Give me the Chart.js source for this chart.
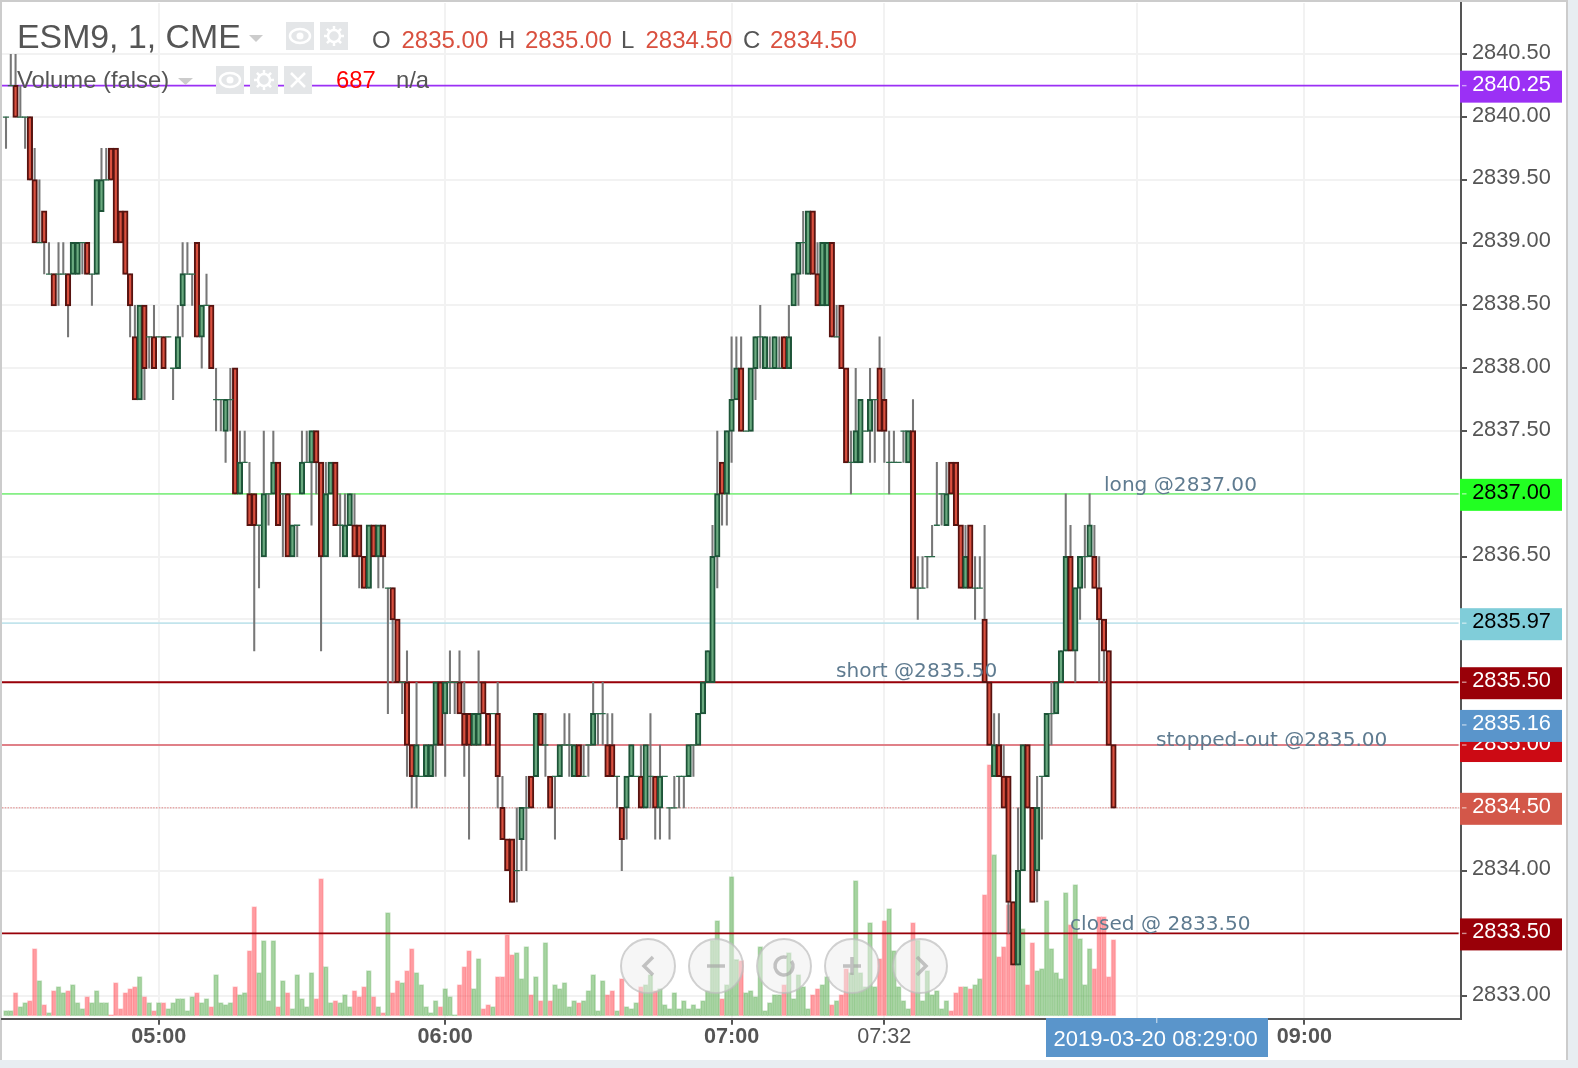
<!DOCTYPE html>
<html>
<head>
<meta charset="utf-8">
<title>ESM9, 1, CME</title>
<script src="https://cdn.jsdelivr.net/npm/chart.js@4/dist/chart.umd.min.js"></script>
<style>
  html, body { margin: 0; padding: 0; background: #e8edf1; }
  canvas { display: block; }
</style>
</head>
<body>
<canvas id="chart" width="1578" height="1068"></canvas>
<script>
// minutes since midnight of the first bar (04:28), one bar a minute
const firstMinute = 268;

const opens = [
  2840,2840.25,2840.25,2840,2840,2840,2839.5,2839,2839.25,2838.75,
  2838.75,2838.75,2838.75,2838.75,2838.75,2838.75,2839,2839,2838.75,2838.75,
  2839.25,2839.5,2839.75,2839.75,2839.25,2839.25,2838.75,2838.25,2837.75,2838.5,
  2838.25,2838.25,2838.25,2838.25,2838.25,2838,2838,2838.5,2838.75,2838.75,
  2839,2838.25,2838.5,2838.5,2837.75,2837.75,2837.5,2837.75,2838,2837,
  2837.25,2837,2837,2836.75,2836.5,2837,2837,2837.25,2837,2837,
  2836.5,2836.75,2837,2837.25,2837.25,2837.5,2837.25,2836.5,2837,2837.25,
  2836.75,2836.5,2836.75,2836.75,2836.75,2836.5,2836.25,2836.75,2836.5,2836.75,
  2836.25,2836.25,2836,2835.5,2835.5,2835,2834.75,2834.75,2834.75,2834.75,
  2835,2835.5,2835.25,2835.5,2835.5,2835.5,2835.25,2835.25,2835,2835,
  2835.5,2835.25,2835.25,2835.25,2834.5,2834.25,2834.25,2834,2834.25,2834.5,
  2834.75,2834.75,2835.25,2835,2834.75,2834.75,2834.75,2835,2835,2834.75,
  2835,2834.75,2835,2835,2835.25,2835.25,2835,2835,2834.75,2834.5,
  2834.5,2834.75,2834.75,2834.75,2834.5,2834.75,2834.75,2834.5,2834.75,2834.5,
  2834.5,2834.75,2834.75,2834.75,2835,2835,2835.25,2835.5,2835.5,2836.5,
  2837.25,2837,2837.5,2837.75,2838,2837.5,2837.5,2838,2838.25,2838,
  2838,2838,2838,2838.25,2838,2838.5,2838.75,2839,2838.75,2839.25,
  2838.75,2838.5,2838.5,2839,2838.25,2838.5,2838,2837.25,2837.25,2837.25,
  2837.5,2837.5,2837.75,2838,2837.75,2837.25,2837.25,2837.25,2837.5,2837.25,
  2837.5,2836.25,2836.25,2836.5,2836.5,2836.75,2837,2836.75,2837.25,2837.25,
  2836.75,2836.25,2836.75,2836.25,2836.25,2836,2835.5,2834.75,2835,2834.75,
  2834.75,2833.75,2833.25,2834,2835,2834.5,2834,2834.75,2834.75,2835.25,
  2835.25,2835.5,2835.75,2836.5,2835.75,2836.25,2836.5,2836.5,2836.5,2836.25,
  2836,2835.75,2835
];
const highs = [
  2840,2840.5,2840.5,2840.25,2840,2840,2839.75,2839.5,2839.25,2839,
  2838.75,2839,2839,2838.75,2839,2839,2839,2839,2838.75,2839.5,
  2839.75,2839.75,2839.75,2839.75,2839.25,2839.25,2838.75,2838.5,2838.5,2838.5,
  2838.25,2838.5,2838.25,2838.25,2838.25,2838,2838.5,2839,2839,2838.75,
  2839,2838.5,2838.75,2838.5,2838,2837.75,2837.75,2838,2838,2837.5,
  2837.5,2837.25,2837,2836.75,2837.5,2837,2837.5,2837.25,2837,2837,
  2836.75,2836.75,2837.5,2837.5,2837.5,2837.5,2837.25,2837.25,2837.25,2837.25,
  2837,2837,2837,2837,2836.75,2836.5,2836.75,2836.75,2836.75,2836.75,
  2836.25,2836.25,2836,2835.5,2835.75,2835,2835.5,2834.75,2835,2835,
  2835.5,2835.5,2835.5,2835.75,2835.5,2835.75,2835.5,2835.25,2835.25,2835.75,
  2835.5,2835.25,2835.25,2835.5,2834.75,2834.25,2834.25,2834.5,2834.5,2834.75,
  2834.75,2835.25,2835.25,2835.25,2834.75,2834.75,2835,2835.25,2835.25,2835,
  2835,2835,2835,2835.5,2835.25,2835.5,2835.25,2835.25,2834.75,2834.5,
  2834.75,2835,2834.75,2835,2835,2835.25,2834.75,2835,2834.75,2834.5,
  2834.75,2834.75,2834.75,2835,2835,2835.25,2835.5,2835.75,2836.75,2837.5,
  2837.25,2837.5,2838.25,2838.25,2838.25,2837.5,2838,2838.25,2838.5,2838.25,
  2838.25,2838.25,2838.25,2838.25,2838.5,2838.75,2839,2839.25,2839.25,2839.25,
  2839,2839,2839,2839,2838.5,2838.5,2838,2837.5,2838,2837.75,
  2837.5,2838,2837.75,2838.25,2838,2837.5,2837.5,2837.25,2837.5,2837.5,
  2837.75,2836.5,2836.5,2836.5,2836.75,2837.25,2837,2837.25,2837.25,2837.25,
  2836.75,2836.75,2836.75,2836.5,2836.5,2836.75,2835.5,2835.25,2835.25,2835,
  2834.75,2833.75,2834.5,2835,2835,2834.5,2834.75,2834.75,2835.25,2835.5,
  2835.5,2835.75,2837,2836.75,2836.25,2836.5,2836.75,2837,2836.75,2836.5,
  2836,2835.75,2835
];
const lows = [
  2839.75,2840.25,2840,2840,2839.75,2839.5,2839,2839,2838.75,2838.75,
  2838.5,2838.5,2838.75,2838.25,2838.75,2838.75,2838.75,2838.75,2838.5,2838.75,
  2839.25,2839.5,2839.5,2839,2839,2838.75,2838.25,2837.75,2837.75,2837.75,
  2838,2838,2838.25,2838,2838.25,2837.75,2838,2838.25,2838.75,2838.5,
  2838.25,2838,2838.5,2838,2837.5,2837.5,2837.25,2837.5,2837,2837,
  2837.25,2836.75,2835.75,2836.25,2836.5,2836.75,2837,2836.75,2836.5,2836.5,
  2836.5,2836.5,2837,2837.25,2836.75,2837,2835.75,2836.5,2837,2836.75,
  2836.5,2836.5,2836.75,2836.5,2836.25,2836.25,2836.25,2836.5,2836.25,2836.25,
  2835.25,2835.5,2835.5,2835.25,2834.75,2834.5,2834.5,2834.75,2834.75,2834.75,
  2834.75,2835,2834.75,2835.25,2835.25,2835.25,2834.75,2834.25,2835,2835,
  2835.25,2835,2835.25,2834.5,2834.25,2834,2833.75,2833.75,2834,2834,
  2834.5,2834.75,2835,2834.75,2834.5,2834.25,2834.75,2835,2834.75,2834.75,
  2834.75,2834.75,2834.75,2835,2835,2835,2834.75,2834.75,2834.5,2834,
  2834.25,2834.75,2834.75,2834.5,2834.5,2834.5,2834.25,2834.25,2834.75,2834.25,
  2834.5,2834.5,2834.5,2834.75,2834.75,2835,2835.25,2835.5,2835.5,2836.25,
  2836.75,2836.75,2837.25,2837.75,2837.5,2837.5,2837.5,2837.75,2838,2838,
  2838,2838,2838,2838,2838,2838.5,2838.5,2838.75,2838.75,2838.75,
  2838.5,2838.5,2838.5,2838.25,2838.25,2838,2837.25,2837,2837.25,2837.25,
  2837.5,2837.25,2837.25,2837.5,2837.25,2837,2837.25,2837.25,2837.25,2837.25,
  2836.25,2836,2836.25,2836.25,2836.5,2836.75,2836.75,2836.75,2837,2836.75,
  2836.25,2836.25,2836.25,2836,2836.25,2835.5,2835,2834.75,2834.75,2834.5,
  2833.5,2833.25,2833.25,2834,2834.5,2833.75,2833.75,2834.25,2834.75,2835,
  2835.25,2835.5,2835.75,2835.75,2835.5,2836,2836.25,2836.5,2836.25,2835.5,
  2835.5,2835,2834.5
];
const closes = [
  2840,2840.25,2840,2840,2840,2839.5,2839,2839,2839,2838.75,
  2838.5,2838.75,2838.75,2838.5,2839,2839,2839,2838.75,2838.75,2839.5,
  2839.5,2839.5,2839.5,2839,2839,2838.75,2838.5,2837.75,2838.5,2838,
  2838.25,2838,2838.25,2838,2838.25,2838,2838.25,2838.75,2838.75,2838.75,
  2838.25,2838.5,2838.5,2838,2837.75,2837.75,2837.75,2837.75,2837,2837.25,
  2837.25,2836.75,2836.75,2836.75,2837,2837,2837.25,2836.75,2837,2836.5,
  2836.75,2836.75,2837.25,2837.25,2837.5,2837.25,2836.5,2837,2837.25,2836.75,
  2836.75,2836.75,2837,2836.5,2836.5,2836.25,2836.75,2836.5,2836.75,2836.5,
  2836.25,2836,2835.5,2835.5,2835,2834.75,2835,2834.75,2835,2835,
  2835.5,2835,2835.5,2835.5,2835.5,2835.25,2835,2835,2835.25,2835.25,
  2835.25,2835,2835.25,2834.75,2834.25,2834,2833.75,2834,2834.5,2834.5,
  2834.5,2835.25,2835,2835,2834.5,2834.75,2835,2835,2835,2835,
  2834.75,2834.75,2835,2835.25,2835.25,2835.25,2834.75,2834.75,2834.75,2834.25,
  2834.75,2835,2834.75,2834.5,2835,2834.75,2834.5,2834.75,2834.75,2834.5,
  2834.5,2834.75,2834.75,2835,2835,2835.25,2835.5,2835.75,2836.5,2837,
  2837,2837.5,2837.75,2838,2837.5,2837.5,2838,2838.25,2838.25,2838.25,
  2838,2838.25,2838,2838,2838.25,2838.75,2839,2839,2839.25,2838.75,
  2838.5,2839,2839,2838.25,2838.25,2838,2837.25,2837.25,2837.5,2837.75,
  2837.5,2837.75,2837.75,2837.5,2837.5,2837.25,2837.25,2837.25,2837.5,2837.5,
  2836.25,2836.25,2836.25,2836.5,2836.5,2836.75,2837,2837,2837,2836.75,
  2836.25,2836.5,2836.25,2836.25,2836.25,2835.5,2835,2835,2834.75,2834.5,
  2833.75,2833.25,2834,2835,2834.5,2833.75,2834.5,2834.75,2835.25,2835.25,
  2835.5,2835.75,2836.5,2835.75,2836.25,2836.5,2836.5,2836.75,2836.25,2836,
  2835.75,2835,2834.5
];
const volumes = [
  48,48,210,84,120,138,606,318,102,30,
  228,264,210,228,282,120,66,174,120,228,
  120,120,12,300,66,210,246,264,354,174,
  120,48,120,120,66,120,156,156,48,174,
  210,120,156,84,372,120,102,120,264,192,
  210,588,984,390,678,138,678,84,318,210,
  66,372,156,84,390,156,1236,444,120,138,
  120,192,84,228,174,264,408,174,84,30,
  930,210,318,300,408,606,390,282,84,30,
  138,84,246,174,12,282,444,588,246,516,
  66,102,84,354,354,732,552,570,336,624,
  192,354,138,660,138,282,246,300,84,138,
  120,138,228,372,48,318,192,228,48,336,
  84,66,120,264,282,372,228,246,102,66,
  210,66,138,66,102,66,138,228,684,858,
  156,282,1254,510,498,210,228,174,624,48,
  120,192,192,282,570,156,372,264,66,192,
  246,282,354,102,138,192,426,390,1218,390,
  264,840,264,516,858,966,588,264,138,66,
  840,684,138,408,192,228,66,138,48,210,
  264,264,246,282,336,1092,2262,1452,534,624,
  1002,1020,600,786,282,660,408,426,1038,606,
  390,336,1110,822,1182,696,282,606,426,894,
  894,354,687
];

const priceTicks = [2833,2833.5,2834,2834.5,2835,2835.5,2836,2836.5,2837,2837.5,2838,2838.5,2839,2839.5,2840,2840.5];
const timeTicks = [300,360,420,452,505,540];
const timeLabels = {300:"05:00",360:"06:00",420:"07:00",452:"07:32",505:"",540:"09:00"};

const levelPrices = [2840.25,2837,2835.97,2835.5,2835,2834.5,2833.5];
const levelColors = ["#9b30f5","#86f086","#c2e4ec","#990008","#e08088","#e8a6a6","#990008"];
const tagPrices = [2840.25,2837,2835.97,2835.5,2835,2834.5,2833.5,2835.16];
const tagColors = ["#9b30f5","#22ff22","#80cdd9","#990008","#cc0a14","#d35749","#990008","#5a95cb"];
const tagTextColors = ["#fff","#000","#000","#fff","#fff","#fff","#fff","#fff"];
const notes = [
  {text:"long @2837.00", price:2837, x:1104, dy:-3},
  {text:"short @2835.50", price:2835.5, x:836, dy:-5},
  {text:"stopped-out @2835.00", price:2835, x:1156, dy:1},
  {text:"closed @ 2833.50", price:2833.5, x:1070, dy:-3},
];

const FONT = '"Liberation Sans", Arial, sans-serif';
const xMin = 267.16, xMax = 572.8, levelEnd = 572.3;

const minuteOf = (i) => firstMinute + i;
const wickData = highs.map((h, i) => ({x: minuteOf(i), y: [lows[i], h]}));
const bodyData = [];
const dojiData = [];
opens.forEach((o, i) => {
  if (o === closes[i]) dojiData.push({x: minuteOf(i), y: o});
  else bodyData.push({x: minuteOf(i), y: [Math.min(o, closes[i]), Math.max(o, closes[i])], up: closes[i] > o});
});
const volumeData = volumes.map((v, i) => ({x: minuteOf(i), y: v, up: closes[i] >= opens[i]}));

const levelSets = levelPrices.map((p, i) => ({
  type: "scatter",
  showLine: true,
  order: 5,
  data: [{x: xMin, y: p}, {x: levelEnd, y: p}],
  borderColor: levelColors[i],
  borderWidth: p === 2834.5 ? 1.4 : 1.8,
  borderDash: p === 2834.5 ? [1.4, 1.4] : [],
  pointRadius: 0,
}));

function icon(ctx, x, y, kind) {
  ctx.fillStyle = "#e4e6e8";
  ctx.fillRect(x, y, 28, 28);
  const cx = x + 14, cy = y + 14;
  ctx.fillStyle = "#fff";
  ctx.strokeStyle = "#fff";
  ctx.lineWidth = 2.5;
  if (kind === "eye") {
    ctx.beginPath();
    ctx.ellipse(cx, cy, 10, 7, 0, 0, Math.PI * 2);
    ctx.stroke();
    ctx.beginPath();
    ctx.arc(cx, cy, 3.5, 0, Math.PI * 2);
    ctx.fill();
  } else if (kind === "gear") {
    ctx.beginPath();
    ctx.arc(cx, cy, 6, 0, Math.PI * 2);
    ctx.stroke();
    for (let a = 0; a < 8; a++) {
      const t = a * Math.PI / 4;
      ctx.beginPath();
      ctx.moveTo(cx + Math.cos(t) * 6, cy + Math.sin(t) * 6);
      ctx.lineTo(cx + Math.cos(t) * 10, cy + Math.sin(t) * 10);
      ctx.stroke();
    }
  } else {
    ctx.beginPath();
    ctx.moveTo(cx - 7, cy - 7); ctx.lineTo(cx + 7, cy + 7);
    ctx.moveTo(cx + 7, cy - 7); ctx.lineTo(cx - 7, cy + 7);
    ctx.stroke();
  }
}

function caret(ctx, x, y, w, h) {
  ctx.fillStyle = "#cccccc";
  ctx.beginPath();
  ctx.moveTo(x, y); ctx.lineTo(x + w, y); ctx.lineTo(x + w / 2, y + h);
  ctx.closePath();
  ctx.fill();
}

function text(ctx, s, x, y, font, color) {
  ctx.font = font;
  ctx.fillStyle = color;
  ctx.textAlign = "left";
  ctx.textBaseline = "alphabetic";
  ctx.fillText(s, x, y);
}

function zoomButton(ctx, cx, cy, kind) {
  ctx.beginPath();
  ctx.arc(cx, cy, 27, 0, Math.PI * 2);
  ctx.fillStyle = "rgba(238,238,238,0.5)";
  ctx.fill();
  ctx.strokeStyle = "rgba(190,190,190,0.7)";
  ctx.lineWidth = 2;
  ctx.stroke();
  ctx.strokeStyle = "rgba(165,165,165,0.65)";
  ctx.lineWidth = 3.5;
  ctx.beginPath();
  if (kind === "left") { ctx.moveTo(cx + 5, cy - 9); ctx.lineTo(cx - 4, cy); ctx.lineTo(cx + 5, cy + 9); }
  if (kind === "right") { ctx.moveTo(cx - 3, cy - 9); ctx.lineTo(cx + 6, cy); ctx.lineTo(cx - 3, cy + 9); }
  if (kind === "minus" || kind === "plus") { ctx.moveTo(cx - 9, cy); ctx.lineTo(cx + 9, cy); }
  if (kind === "plus") { ctx.moveTo(cx, cy - 9); ctx.lineTo(cx, cy + 9); }
  if (kind === "reset") { ctx.arc(cx, cy, 9, -0.6, Math.PI * 1.6); }
  ctx.stroke();
}

const framePlugin = {
  id: "frame",
  beforeDraw(chart) {
    const ctx = chart.ctx;
    ctx.save();
    ctx.fillStyle = "#e8edf1";
    ctx.fillRect(0, 0, 1578, 1068);
    ctx.fillStyle = "#ffffff";
    ctx.fillRect(0, 0, 1567, 1060);
    ctx.fillStyle = "#cccccc";
    ctx.fillRect(0, 0, 1568, 2);
    ctx.fillRect(0, 0, 2, 1060);
    ctx.fillRect(1566, 0, 2, 1060);
    ctx.restore();
  },
  afterDraw(chart) {
    const ctx = chart.ctx;
    const y = chart.scales.y;
    ctx.save();

    // header
    text(ctx, "ESM9, 1, CME", 17, 47.5, "33.85px " + FONT, "#555555");
    caret(ctx, 249, 35, 14, 7);
    icon(ctx, 286, 22, "eye");
    icon(ctx, 320, 22, "gear");
    const hdr = "24px " + FONT;
    text(ctx, "O", 372, 47.5, hdr, "#555555");
    text(ctx, "2835.00", 401.5, 47.5, hdr, "#d9503f");
    text(ctx, "H", 498, 47.5, hdr, "#555555");
    text(ctx, "2835.00", 525, 47.5, hdr, "#d9503f");
    text(ctx, "L", 621, 47.5, hdr, "#555555");
    text(ctx, "2834.50", 645.5, 47.5, hdr, "#d9503f");
    text(ctx, "C", 743, 47.5, hdr, "#555555");
    text(ctx, "2834.50", 770, 47.5, hdr, "#d9503f");

    const sub = "23.8px " + FONT;
    text(ctx, "Volume (false)", 17, 88, sub, "#555555");
    caret(ctx, 178, 78, 15, 7);
    icon(ctx, 216, 66, "eye");
    icon(ctx, 250, 66, "gear");
    icon(ctx, 284, 66, "x");
    text(ctx, "687", 336, 88, sub, "#ff0000");
    text(ctx, "n/a", 396, 88, sub, "#555555");

    // order notes
    notes.forEach((n) => {
      text(ctx, n.text, n.x, y.getPixelForValue(n.price) + n.dy, '20.1px "DejaVu Sans", sans-serif', "#5f7b90");
    });

    // zoom and scroll buttons
    ["left", "minus", "reset", "plus", "right"].forEach((k, i) => zoomButton(ctx, 648 + i * 68, 966, k));

    // price tags on the axis
    tagPrices.forEach((p, i) => {
      const py = y.getPixelForValue(p);
      ctx.fillStyle = tagColors[i];
      ctx.fillRect(1460, py - 15, 102, 32);
      ctx.fillStyle = "rgba(255,255,255,0.55)";
      ctx.fillRect(1462, py - 0.7, 4.5, 1.4);
      text(ctx, p.toFixed(2), 1472.2, py + 5, "21.8px " + FONT, tagTextColors[i]);
    });

    // crosshair time label
    ctx.fillStyle = "#5a95cb";
    ctx.fillRect(1046, 1018, 222, 39);
    ctx.fillStyle = "rgba(255,255,255,0.55)";
    ctx.fillRect(1156, 1018, 1.4, 5);
    text(ctx, "2019-03-20 08:29:00", 1053.5, 1045.5, "22px " + FONT, "#ffffff");
    ctx.restore();
  },
};

new Chart(document.getElementById("chart"), {
  type: "bar",
  plugins: [framePlugin],
  data: {
    datasets: [
      {
        label: "Volume",
        yAxisID: "volume",
        order: 6,
        data: volumeData,
        barThickness: 5,
        grouped: false,
        borderSkipped: false,
        borderWidth: 1,
        backgroundColor: (c) => (c.raw && c.raw.up ? "rgba(80,170,70,0.5)" : "rgba(255,60,70,0.5)"),
        borderColor: (c) => (c.raw && c.raw.up ? "rgba(70,160,60,0.3)" : "rgba(255,60,70,0.25)"),
      },
      ...levelSets,
      {
        label: "wicks",
        order: 3,
        data: wickData,
        barThickness: 1.4,
        grouped: false,
        borderWidth: 0,
        backgroundColor: "#777777",
      },
      {
        label: "bodies",
        order: 2,
        data: bodyData,
        barThickness: 4.8,
        grouped: false,
        borderSkipped: false,
        borderWidth: 2,
        inflateAmount: 0.7,
        backgroundColor: (c) => (c.raw && c.raw.up ? "#6aaa7f" : "#d9503f"),
        borderColor: (c) => (c.raw && c.raw.up ? "#1d5438" : "#571310"),
      },
      {
        type: "scatter",
        label: "dojis",
        order: 1,
        data: dojiData,
        pointStyle: "line",
        pointRadius: 3,
        borderWidth: 1.3,
        borderColor: "#2c6b4a",
      },
    ],
  },
  options: {
    responsive: false,
    animation: false,
    events: [],
    layout: {autoPadding: false, padding: {left: 2, top: 3}},
    plugins: {legend: {display: false}, tooltip: {enabled: false}},
    scales: {
      x: {
        type: "linear",
        offset: false,
        min: xMin,
        max: xMax,
        afterBuildTicks(scale) { scale.ticks = timeTicks.map((v) => ({value: v})); },
        afterFit(scale) {
          scale.height = 49.3;
          scale.paddingLeft = 0;
          scale.paddingRight = 0;
        },
        border: {color: "#555555", width: 2},
        grid: {offset: false, color: "#f2f2f2", lineWidth: 2, tickLength: 6, tickColor: "#555555", tickWidth: 2},
        ticks: {
          autoSkip: false,
          maxRotation: 0,
          padding: -1,
          color: "#555555",
          font: (c) => ({family: FONT, size: 21.6, weight: c.tick && c.tick.value === 452 ? "normal" : "bold"}),
          callback: (v) => timeLabels[v],
        },
      },
      y: {
        type: "linear",
        position: "right",
        min: 2832.821,
        max: 2840.908,
        afterBuildTicks(scale) { scale.ticks = priceTicks.map((v) => ({value: v})); },
        afterFit(scale) {
          scale.width = 117;
          scale.paddingTop = 0;
          scale.paddingBottom = 0;
        },
        border: {color: "#555555", width: 2},
        grid: {color: "#f2f2f2", lineWidth: 2, tickLength: 6, tickColor: "#555555", tickWidth: 2},
        ticks: {
          padding: 5,
          color: "#555555",
          // the empty second line lifts each label a little above its grid line
          font: {family: FONT, size: 21.8, lineHeight: "3px"},
          callback: (v) => [v.toFixed(2), ""],
        },
      },
      volume: {
        type: "linear",
        display: false,
        min: -24,
        max: 9117,
        afterFit(scale) { scale.width = 0; },
      },
    },
  },
});
</script>
</body>
</html>
